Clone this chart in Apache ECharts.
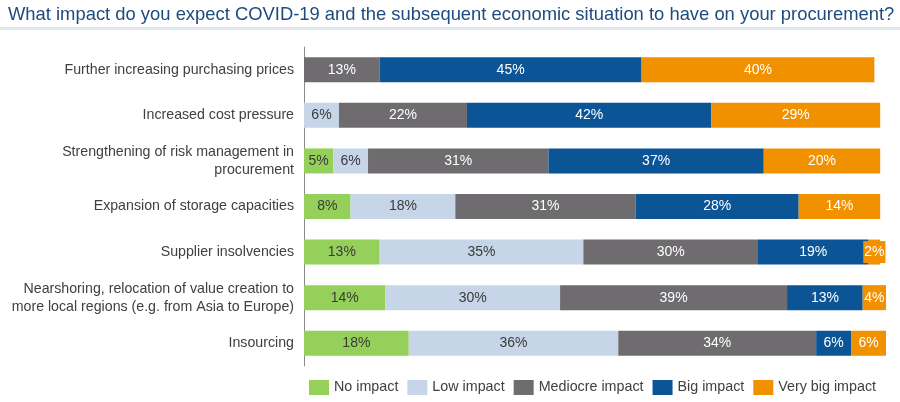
<!DOCTYPE html>
<html><head><meta charset="utf-8">
<script src="https://cdn.jsdelivr.net/npm/echarts@6/dist/echarts.min.js"></script>
<style>html,body{margin:0;padding:0;background:#fff}#c{width:900px;height:402px}</style>
</head><body><div id="c"></div>
<script>
const categories = [
  "Further increasing purchasing prices",
  "Increased cost pressure",
  "Strengthening of risk management in\nprocurement",
  "Expansion of storage capacities",
  "Supplier insolvencies",
  "Nearshoring, relocation of value creation to\nmore local regions (e.g. from Asia to Europe)",
  "Insourcing"
];
const noImpact       = [0, 0, 5, 8, 13, 14, 18];
const lowImpact      = [0, 6, 6, 18, 35, 30, 36];
const mediocreImpact = [13, 22, 31, 31, 30, 39, 34];
const bigImpact      = [45, 42, 37, 28, 19, 13, 6];
const veryBigImpact  = [40, 29, 20, 14, 2, 4, 6];
const seriesNames = ["No impact", "Low impact", "Mediocre impact", "Big impact", "Very big impact"];
const colors = ["#95d05a", "#c6d6e8", "#6e6c6f", "#0b5597", "#f29100"];
const labelColors = ["#3a3a3a", "#3a3a3a", "#ffffff", "#ffffff", "#ffffff"];
const seriesData = [noImpact, lowImpact, mediocreImpact, bigImpact, veryBigImpact];

const chart = echarts.init(document.getElementById('c'), null, {renderer: 'canvas'});
const FONT = '"Liberation Sans", Arial, sans-serif';
const series = seriesNames.map((name, i) => ({
  name, type: 'bar', stack: 'total', barWidth: 25,
  itemStyle: {color: colors[i]},
  data: seriesData[i].map(v => v === 0 ? null : v),
  label: {
    show: true, position: 'inside',
    formatter: p => p.value + '%',
    color: labelColors[i], fontSize: 14, fontFamily: FONT,
    backgroundColor: i === 4 ? colors[4] : 'transparent',
    padding: i === 4 ? [4, 1] : 0
  }
}));

chart.setOption({
  animation: false,
  textStyle: {fontFamily: FONT},
  title: {
    text: 'What impact do you expect COVID-19 and the subsequent economic situation to have on your procurement?',
    left: 3, top: 1,
    textStyle: {color: '#1f4a7e', fontSize: 18.4, fontWeight: 'normal', fontFamily: FONT}
  },
  graphic: [{
    type: 'rect', shape: {x: 0, y: 27, width: 900, height: 3},
    style: {fill: '#dfe6ef'}
  }],
  legend: {
    data: seriesNames, left: 309, top: 380, padding: 0,
    itemWidth: 20, itemHeight: 15, itemGap: 9,
    icon: 'rect',
    textStyle: {color: '#404040', fontSize: 14.3, fontFamily: FONT}
  },
  grid: {left: 304, right: 14, top: 47, bottom: 36, containLabel: false},
  xAxis: {type: 'value', min: 0, max: 100, show: false},
  yAxis: {
    type: 'category', data: categories, inverse: true,
    axisLine: {show: true, lineStyle: {color: '#8a8a8a', width: 1}},
    axisTick: {show: false},
    axisLabel: {color: '#404040', fontSize: 14.2, fontFamily: FONT, margin: 10, lineHeight: 18, align: 'right'}
  },
  series
});
</script></body></html>
